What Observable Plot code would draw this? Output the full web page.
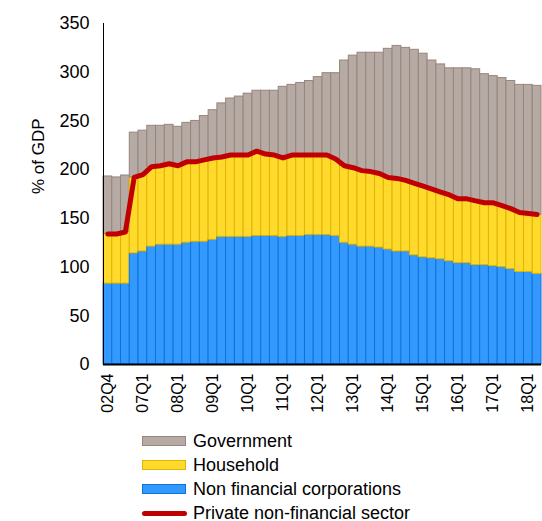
<!DOCTYPE html>
<html>
<head>
<meta charset="utf-8">
<script src="https://cdn.jsdelivr.net/npm/d3@7"></script>
<script src="https://cdn.jsdelivr.net/npm/@observablehq/plot@0.6"></script>
<style>
  html, body { margin: 0; padding: 0; background: white; }
  #wrap { position: relative; width: 542px; height: 521px; font-family: "Liberation Sans", Arial, sans-serif; }
  #legend { position: absolute; left: 142px; top: 429px; font-size: 18px; color: #000; }
  .row { display: flex; align-items: center; height: 24px; }
  .sw { width: 42px; height: 8px; margin-right: 7px; border-width: 1.5px; border-style: solid; }
  .ln { width: 45px; height: 5px; border-radius: 3px; margin-right: 6px; }
</style>
</head>
<body>
<div id="wrap">
  <div id="chart"></div>
  <div id="legend"></div>
</div>
<script>
const categories = ["02Q4","03Q4","04Q4","06Q4",
  "07Q1","07Q2","07Q3","07Q4","08Q1","08Q2","08Q3","08Q4","09Q1","09Q2","09Q3","09Q4",
  "10Q1","10Q2","10Q3","10Q4","11Q1","11Q2","11Q3","11Q4","12Q1","12Q2","12Q3","12Q4",
  "13Q1","13Q2","13Q3","13Q4","14Q1","14Q2","14Q3","14Q4","15Q1","15Q2","15Q3","15Q4",
  "16Q1","16Q2","16Q3","16Q4","17Q1","17Q2","17Q3","17Q4","18Q1","18Q2"];

const nonFinancialCorporations = [83,83,83,114,116,121,123,123,123,125,126,126,128,131,131,131,131,132,132,132,
  131,132,132,133,133,133,132,125,123,121,121,120,118,116,116,112,110,109,108,106,
  104,104,102,102,101,100,98,95,95,93];
const household = [51,51,53,78,79,82,81,83,81,83,82,84,84,82,84,84,84,87,84,83,
  81,83,83,82,82,82,79,79,79,78,77,76,74,75,73,74,73,71,69,68,
  66,66,66,64,65,63,62,61,60,61];
const government = [59,58,58,46,45,42,41,40,40,40,42,45,49,55,58,60,63,62,65,66,
  73,72,74,76,80,84,88,108,115,121,122,124,132,136,136,137,136,132,131,130,
  134,134,135,132,130,131,131,131,132,132];
const privateNonFinancial = [134,134,136,192,195,203,204,206,204,208,208,210,212,213,215,215,215,219,216,215,
  212,215,215,215,215,215,211,204,202,199,198,196,192,191,189,186,183,180,177,174,
  170,170,168,166,166,163,160,156,155,154];

const tickLabels = ["02Q4","07Q1","08Q1","09Q1","10Q1","11Q1","12Q1","13Q1","14Q1","15Q1","16Q1","17Q1","18Q1"];
const yTicks = [0,50,100,150,200,250,300,350];

const seriesNames = ["Non financial corporations","Household","Government"];
const seriesFill = {"Non financial corporations":"#3399ff","Household":"#ffd92b","Government":"#b6aaa4"};
const seriesStroke = {"Non financial corporations":"#0b74dc","Household":"#e0b500","Government":"#98857b"};
const lineName = "Private non-financial sector";
const lineColor = "#c00000";

const seriesValues = {"Non financial corporations": nonFinancialCorporations, "Household": household, "Government": government};
const rows = [];
categories.forEach((c, i) => {
  seriesNames.forEach(s => rows.push({cat: c, series: s, value: seriesValues[s][i]}));
});
const lineRows = categories.map((c, i) => ({cat: c, value: privateNonFinancial[i]}));

const chart = Plot.plot({
  width: 542,
  height: 430,
  marginTop: 23,
  marginBottom: 66,
  marginLeft: 103,
  marginRight: 1,
  style: {fontFamily: "'Liberation Sans', Arial, sans-serif", fontSize: "16px", color: "#000", background: "white"},
  x: {domain: categories, padding: 0},
  y: {domain: [0, 350]},
  color: {type: "identity"},
  marks: [
    Plot.barY(rows, {x: "cat", y: "value", z: "series",
      fill: d => seriesFill[d.series], stroke: d => seriesStroke[d.series], strokeWidth: 1}),
    Plot.lineY(lineRows, {x: "cat", y: "value", stroke: lineColor, strokeWidth: 5, strokeLinejoin: "round", strokeLinecap: "round"}),
    Plot.ruleY([0], {stroke: "#000", strokeWidth: 2}),
    Plot.frame({anchor: "left", stroke: "#000", strokeWidth: 1}),
    Plot.axisX({ticks: tickLabels, tickRotate: -90, tickSize: 0, tickPadding: 9, fontSize: 16, label: null}),
    Plot.axisY({ticks: yTicks, tickSize: 0, tickPadding: 14, fontSize: 18, label: null}),
    Plot.text(["% of GDP"], {frameAnchor: "left", rotate: -90, dx: -65, fontSize: 17, fill: "#000"})
  ]
});
document.getElementById("chart").appendChild(chart);

const legend = d3.select("#legend");
["Government","Household","Non financial corporations"].forEach(s => {
  const r = legend.append("div").attr("class", "row");
  r.append("div").attr("class", "sw").style("background", seriesFill[s]).style("border-color", seriesStroke[s]);
  r.append("span").text(s);
});
const lr = legend.append("div").attr("class", "row");
lr.append("div").attr("class", "ln").style("background", lineColor);
lr.append("span").text(lineName);
</script>
</body>
</html>
